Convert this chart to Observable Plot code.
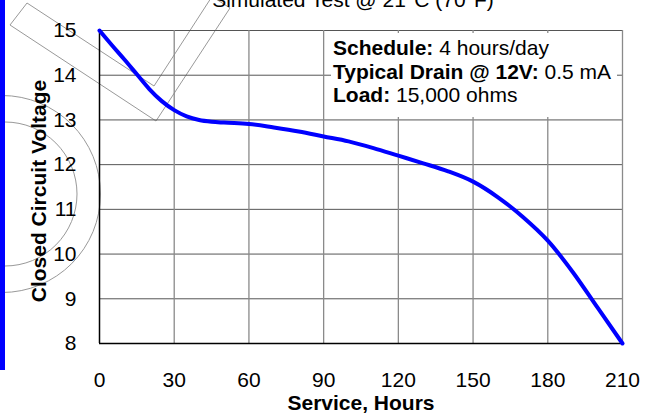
<!DOCTYPE html>
<html><head><meta charset="utf-8">
<script src="https://cdn.jsdelivr.net/npm/d3@7"></script>
<script src="https://cdn.jsdelivr.net/npm/@observablehq/plot@0.6"></script>
<style>
html,body{margin:0;padding:0;background:#fff;}
#chart{position:relative;width:650px;height:417px;overflow:hidden;}
</style></head><body><div id="chart"></div>
<script>
// ---- data ----
const hours = [0,5,10,15,20,25,30,35,40,45,50,60,70,80,90,100,110,120,130,140,150,160,170,180,190,200,210];
const volts = [15,14.67,14.35,14.02,13.69,13.42,13.22,13.08,13.0,12.96,12.94,12.91,12.83,12.74,12.63,12.52,12.37,12.2,12.03,11.85,11.62,11.27,10.83,10.3,9.6,8.8,8.0];
const xTicks = [0,30,60,90,120,150,180,210];
const yTicks = [8,9,10,11,12,13,14,15];
const titleText = "Simulated Test @ 21°C (70°F)";
const xLabel = "Service, Hours";
const yLabel = "Closed Circuit Voltage";
const infoLabels = ["Schedule:", "Typical Drain @ 12V:", "Load:"];
const infoValues = ["4 hours/day", "0.5 mA", "15,000 ohms"];

const FONT = "'Liberation Sans', Arial, Helvetica, sans-serif";
const series = hours.map((h, i) => ({h, v: volts[i]}));

const plot = Plot.plot({
  width: 650, height: 417,
  marginLeft: 99, marginRight: 28, marginTop: 30, marginBottom: 74,
  style: {fontFamily: FONT, fontSize: "21px", color: "#000", background: "#fff", overflow: "visible"},
  x: {domain: [0, 210]},
  y: {domain: [8, 15]},
  marks: [
    Plot.gridY(yTicks.filter(d => d > 8), {stroke: "#555", strokeOpacity: 1, strokeWidth: 1}),
    Plot.gridX(xTicks.filter(d => d > 0), {stroke: "#8a8a8a", strokeOpacity: 1, strokeWidth: 1.3}),
    Plot.ruleX([0], {stroke: "#000", strokeWidth: 1.5}),
    Plot.ruleY([8], {stroke: "#000", strokeWidth: 1.5}),
    Plot.axisX(xTicks, {tickSize: 0, tickPadding: 29, label: null, fontSize: 21}),
    Plot.axisY(yTicks, {tickSize: 0, tickPadding: 23, label: null, fontSize: 21}),
    Plot.line(series, {x: "h", y: "v", stroke: "#0000ff", strokeWidth: 4, curve: "monotone-x"}),
    Plot.text([xLabel], {frameAnchor: "bottom", dy: 60, lineAnchor: "middle", textAnchor: "middle", fontWeight: "bold", fontSize: 21}),
    Plot.text([yLabel], {frameAnchor: "left", dx: -60, dy: 4, rotate: -90, lineAnchor: "middle", textAnchor: "middle", fontWeight: "bold", fontSize: 21})
  ]
});

document.getElementById("chart").appendChild(plot);

const svg = d3.select(plot);

// decorative callout shapes (drawing artifacts in the reference), underneath everything
const decor = svg.insert("g", ":first-child").attr("fill", "none").attr("stroke", "#999").attr("stroke-width", 1);
decor.append("circle").attr("cx", 5).attr("cy", 194).attr("r", 72);
decor.append("circle").attr("cx", 2).attr("cy", 194).attr("r", 98.5);
decor.append("polygon").attr("points", "27,3 154,86 212,-3.5 230,8 156,121 10,25");
svg.insert("rect", ":first-child").attr("width", 650).attr("height", 417).attr("fill", "#fff");

// info box
const info = svg.append("g").attr("font-family", FONT).attr("font-size", 21).attr("text-anchor", "start");
info.append("rect").attr("x", 331).attr("y", 33).attr("width", 286).attr("height", 84).attr("fill", "#fff");
infoLabels.forEach((lab, i) => {
  const t = info.append("text").attr("x", 333).attr("y", 55 + i * 23.5).attr("text-anchor", "start");
  t.append("tspan").attr("font-weight", "bold").text(lab);
  t.append("tspan").text(" " + infoValues[i]);
});

// title (partly cut off at the top edge, as in the reference)
svg.append("text").attr("x", 353).attr("y", 7).attr("text-anchor", "middle")
  .attr("font-family", FONT).attr("font-size", 21).text(titleText);

// blue side bar
svg.append("rect").attr("x", 0).attr("y", 0).attr("width", 5).attr("height", 370).attr("fill", "#0000ff");
</script></body></html>
